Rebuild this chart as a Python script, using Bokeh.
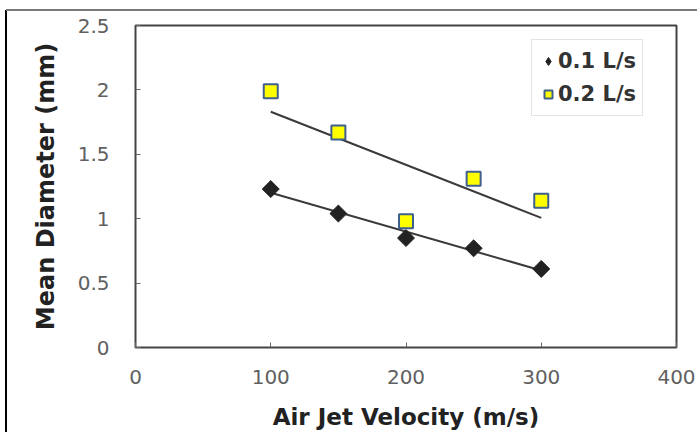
import numpy as np
from bokeh.plotting import figure
from bokeh.models import Range1d, FixedTicker, Legend, LegendItem, ColumnDataSource
from bokeh.embed import file_html
from bokeh.resources import INLINE

velocity = [100, 150, 200, 250, 300]
d_01 = [1.23, 1.04, 0.85, 0.77, 0.61]
d_02 = [1.99, 1.67, 0.98, 1.31, 1.14]
series_names = ["0.1 L/s", "0.2 L/s"]
x_ticks = [0, 100, 200, 300, 400]
y_ticks = [0, 0.5, 1, 1.5, 2, 2.5]

FONT = "DejaVu Sans"

p = figure(width=697, height=432, output_backend="svg", toolbar_location=None,
           x_range=Range1d(0, 400), y_range=Range1d(0, 2.5))
p.min_border_left = 135
p.min_border_right = 21
p.min_border_top = 25
p.min_border_bottom = 84
p.background_fill_color = "white"
p.border_fill_alpha = 0
# the picture's own border lines (grey on top, black on the left)
p.styles = {"background": "linear-gradient(#7a7a7a, #7a7a7a) 6px 9px / 691px 2px no-repeat, "
                          "linear-gradient(#000000, #000000) 5px 10px / 2px 422px no-repeat, "
                          "#ffffff"}
p.outline_line_color = "#444444"
p.outline_line_width = 2
p.grid.visible = False

for ax in (p.xaxis[0], p.yaxis[0]):
    ax.axis_line_color = None
    ax.major_tick_in = 5
    ax.major_tick_out = 0
    ax.minor_tick_line_color = None
    ax.major_tick_line_color = "#666666"
    ax.major_label_text_font = FONT
    ax.major_label_text_font_size = "20px"
    ax.major_label_text_color = "#606060"
    ax.axis_label_text_font = FONT
    ax.axis_label_text_font_style = "bold"
    ax.axis_label_text_color = "#222222"

p.xaxis.axis_label_text_font_size = "23px"
p.yaxis.axis_label_text_font_size = "24px"
p.xaxis.ticker = FixedTicker(ticks=x_ticks)
p.yaxis.ticker = FixedTicker(ticks=y_ticks)
p.xaxis.axis_label = "Air Jet Velocity (m/s)"
p.yaxis.axis_label = "Mean Diameter (mm)"
p.xaxis.major_label_standoff = 22
p.yaxis.major_label_standoff = 26
p.xaxis.axis_label_standoff = 17
p.yaxis.axis_label_standoff = 15

x = np.array(velocity, dtype=float)
for ys in (d_01, d_02):
    k, b = np.polyfit(x, np.array(ys), 1)
    p.line([x.min(), x.max()], [k * x.min() + b, k * x.max() + b],
           line_color="#3a3a3a", line_width=2)

src1 = ColumnDataSource(dict(x=velocity, y=d_01))
src2 = ColumnDataSource(dict(x=velocity, y=d_02))
# diamonds drawn as squares turned by 45 degrees
r1 = p.scatter("x", "y", source=src1, marker="square", size=12, angle=np.pi / 4,
               fill_color="#222222", line_color="#222222", line_width=1)
r2 = p.scatter("x", "y", source=src2, marker="square", size=14,
               fill_color="#ffff00", line_color="#3f5f8f", line_width=2)
# legend-key renderer (NaN point, draws nothing) so the key shows a diamond
r1_key = p.scatter(x=[np.nan], y=[np.nan], marker="diamond", size=12,
                   fill_color="#222222", line_color="#222222", line_width=1)

legend = Legend(items=[LegendItem(label=series_names[0], renderers=[r1_key]),
                       LegendItem(label=series_names[1], renderers=[r2])],
                location=(396, 231))
legend.label_text_font = FONT
legend.label_text_font_style = "bold"
legend.label_text_font_size = "21px"
legend.label_text_color = "#333333"
legend.border_line_color = "#c8c8c8"
legend.border_line_width = 1
legend.background_fill_alpha = 1
legend.margin = 0
legend.padding = 6
legend.spacing = 3
legend.glyph_width = 20
legend.glyph_height = 30
legend.label_standoff = 0
p.add_layout(legend)

open("out.html", "w").write(file_html(p, INLINE))
